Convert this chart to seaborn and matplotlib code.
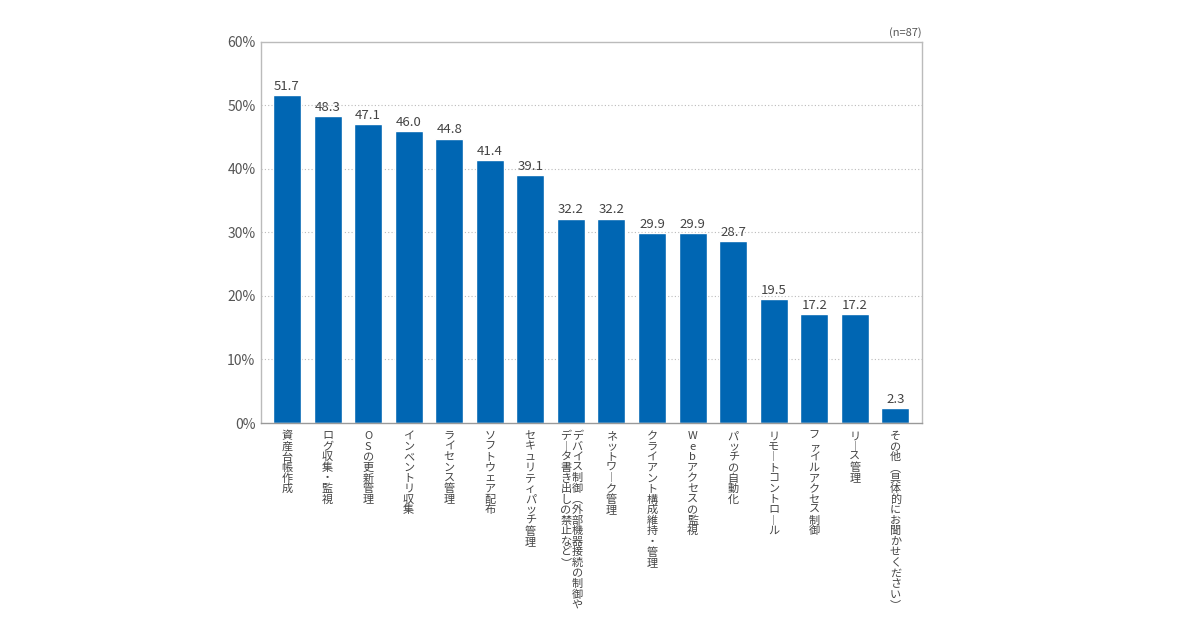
import matplotlib
matplotlib.use("Agg")
import matplotlib.pyplot as plt
import seaborn as sns
import pandas as pd

categories = [
    "資産台帳作成",
    "ログ収集・監視",
    "OSの更新管理",
    "インベントリ収集",
    "ライセンス管理",
    "ソフトウェア配布",
    "セキュリティパッチ管理",
    "デバイス制御(外部機器接続の制御や\nデータ書き出しの禁止など)",
    "ネットワーク管理",
    "クライアント構成維持・管理",
    "Webアクセスの監視",
    "パッチの自動化",
    "リモートコントロール",
    "ファイルアクセス制御",
    "リース管理",
    "その他(具体的にお聞かせください)",
]
values = [51.7, 48.3, 47.1, 46.0, 44.8, 41.4, 39.1, 32.2, 32.2, 29.9, 29.9, 28.7, 19.5, 17.2, 17.2, 2.3]
yticks = [0, 10, 20, 30, 40, 50, 60]
ytick_labels = ["0%", "10%", "20%", "30%", "40%", "50%", "60%"]
note = "(n=87)"

sns.set_theme(style="white")
plt.rcParams["font.family"] = ["Noto Sans CJK JP", "DejaVu Sans"]

df = pd.DataFrame({"cat": categories, "val": values})

fig = plt.figure(figsize=(12, 6.36), dpi=100)
ax = fig.add_axes([0.2175, 0.3349, 0.551, 0.5991])

sns.barplot(data=df, x="cat", y="val", color="#0066b3", saturation=1, width=0.69, ax=ax)

ax.set_ylim(0, 60)
ax.set_xlim(-0.64, len(categories) - 0.34)
ax.set_yticks(yticks)
ax.set_yticklabels(ytick_labels, fontsize=10, color="#555555")
ax.set_xticks([])
ax.set_xlabel("")
ax.set_ylabel("")
ax.tick_params(axis="y", length=0, pad=4)

for y in yticks[1:-1]:
    ax.axhline(y, color="#bbbbbb", lw=0.8, ls=(0, (1, 2)), zorder=0)

for s in ax.spines.values():
    s.set_color("#bbbbbb")
    s.set_linewidth(1.0)
ax.spines["bottom"].set_color("#999999")

for i, v in enumerate(values):
    ax.annotate(f"{v:.1f}", (i, v), xytext=(0, 1.5), textcoords="offset points",
                ha="center", va="bottom", fontsize=9.5, color="#444444")

vert_map = {"ー": "︱", "(": "︵", ")": "︶"}
pitch = 7.6  # points between stacked characters

for i, lab in enumerate(categories):
    cols = lab.split("\n")
    n = len(cols)
    for j, col in enumerate(cols):
        # vertical Japanese: first column on the right
        dx = ((n - 1) / 2 - j) * 8.0 + (0.5 if n > 1 else 0)
        for k, ch in enumerate(col):
            ax.annotate(vert_map.get(ch, ch), (i, 0), xytext=(dx, -9.5 - k * pitch),
                        textcoords="offset points", ha="center", va="center",
                        fontsize=8, color="#444444", annotation_clip=False)

fig.text(0.768, 0.94, note, ha="right", va="bottom", fontsize=8, color="#555555")

fig.savefig("out.png", dpi=100)
